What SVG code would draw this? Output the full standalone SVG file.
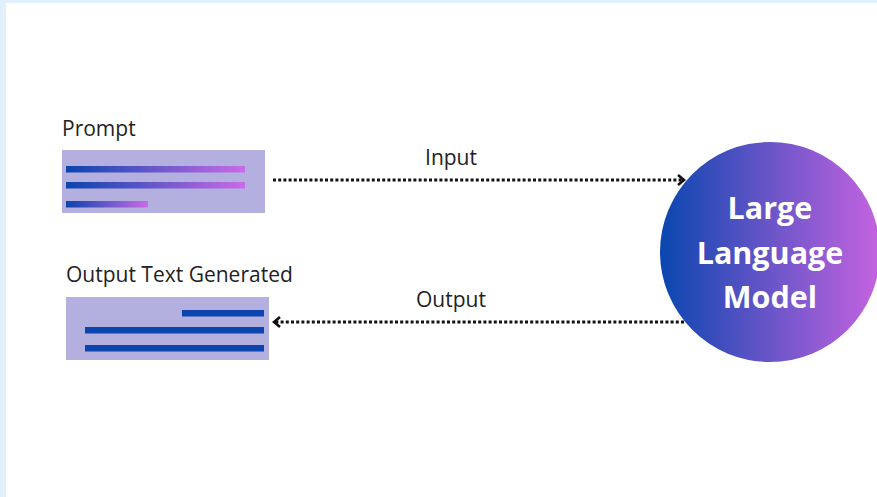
<svg xmlns="http://www.w3.org/2000/svg" width="877" height="497" viewBox="0 0 877 497">
<defs>
<linearGradient id="barGrad" x1="0" y1="0" x2="1" y2="0">
<stop offset="0" stop-color="#0B44AE"/>
<stop offset="1" stop-color="#C96BE6"/>
</linearGradient>
<linearGradient id="circGrad" x1="0" y1="0" x2="1" y2="0">
<stop offset="0" stop-color="#0A46B0"/>
<stop offset="0.5" stop-color="#6A55C8"/>
<stop offset="1" stop-color="#C563E0"/>
</linearGradient>
<marker id="chev" viewBox="0 0 10 12" refX="8" refY="6" markerWidth="10" markerHeight="12" markerUnits="userSpaceOnUse" orient="auto-start-reverse">
<path d="M2,1 L8,6 L2,11" fill="none" stroke="#111" stroke-width="2.6"/>
</marker>
<style>
.lbl{font-family:"Open Sans","Noto Sans",sans-serif;font-size:21px;fill:#222}
.box{fill:#B3B0E0}
.dark{fill:#0B44AE}
.conn{stroke:#111;stroke-width:3;stroke-dasharray:3 2.2;fill:none}
.llm{font-family:"Open Sans","Noto Sans",sans-serif;font-weight:bold;font-size:30.5px;fill:#fff;text-anchor:middle}
</style>
</defs>
<rect width="877" height="497" fill="#fff"/>
<rect x="0" y="0" width="877" height="3" fill="#E0F1FD"/>
<rect x="0" y="0" width="6" height="497" fill="#E0F1FD"/>
<g id="prompt">
<text class="lbl" x="62" y="136">Prompt</text>
<rect class="box" x="62" y="150" width="203" height="63"/>
<rect x="66" y="166" width="179" height="6.5" fill="url(#barGrad)"/>
<rect x="66" y="182" width="179" height="6.5" fill="url(#barGrad)"/>
<rect x="66" y="201" width="82" height="6.5" fill="url(#barGrad)"/>
</g>
<g id="output">
<text class="lbl" x="66" y="282">Output Text Generated</text>
<rect class="box" x="66" y="297" width="203" height="63"/>
<rect class="dark" x="182" y="310" width="82" height="6.5"/>
<rect class="dark" x="85" y="327" width="179" height="6.5"/>
<rect class="dark" x="85" y="345" width="179" height="6.5"/>
</g>
<g id="llm">
<circle cx="770" cy="252" r="110" fill="url(#circGrad)"/>
<text class="llm" x="770" y="219">Large</text>
<text class="llm" x="770" y="264">Language</text>
<text class="llm" x="770" y="308">Model</text>
</g>
<g id="connectors">
<line class="conn" x1="273" y1="180" x2="684" y2="180" marker-end="url(#chev)"/>
<line class="conn" x1="684" y1="322" x2="274" y2="322" marker-end="url(#chev)"/>
<text class="lbl" x="451" y="165" text-anchor="middle">Input</text>
<text class="lbl" x="451" y="307" text-anchor="middle">Output</text>
</g>
</svg>
